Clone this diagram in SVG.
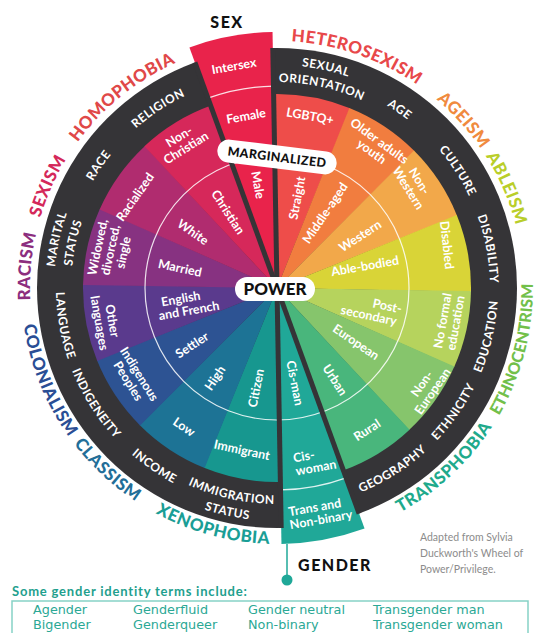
<svg xmlns="http://www.w3.org/2000/svg" width="535" height="633" viewBox="0 0 535 633">
<style>
text{font-family:Lato,"DejaVu Sans",sans-serif}
.ring{font-weight:700;font-size:12px;fill:#fff;letter-spacing:0.5px}
.ism{font-weight:900;font-size:17px;letter-spacing:0.5px}
.lab{font-weight:700;font-size:12.5px;fill:#fff;text-anchor:middle}
.thin{fill:none;stroke:#fff;stroke-width:1.2;stroke-opacity:0.85}
.div{stroke:#353437;stroke-width:5}
.pill{fill:#fff}
.ptxt{font-weight:900;fill:#111;text-anchor:middle}
.term{font-family:"DejaVu Sans",sans-serif;font-size:12.8px;fill:#2ba895}
.note{font-size:10.5px;fill:#8c8c8c}
.head{font-weight:700;font-size:13px;letter-spacing:0.8px;fill:#1FA08E}
</style>
<defs>
<path id="seg" d="M0 0 L-39.01 -190.04 A194 194 0 0 1 39.01 -190.04 Z"/>
<path id="wedge" d="M0 0 L-42.25 -252.5 A256 256 0 0 1 42.25 -252.5 Z"/>
<path id="warc" d="M-33.33 -199.23 A202 202 0 0 1 33.33 -199.23"/>
<path id="cw213" d="M-184.46 -106.5 A213 213 0 0 1 184.46 -106.5"/>
<path id="cw223" d="M-193.12 -111.5 A223 223 0 0 1 193.12 -111.5"/>
<path id="cw206" d="M-178.4 -103 A206 206 0 0 1 178.4 -103"/>
<path id="ccw221" d="M-191.39 110.5 A221 221 0 0 0 191.39 110.5"/>
<path id="ccw216" d="M-187.06 108 A216 216 0 0 0 187.06 108"/>
<path id="ccw233" d="M-201.78 116.5 A233 233 0 0 0 201.78 116.5"/>
<path id="cw247" d="M-213.9 -123.5 A247 247 0 0 1 213.9 -123.5"/>
<path id="ccw256" d="M-221.7 128 A256 256 0 0 0 221.7 128"/>
</defs>
<g transform="translate(277 288)">
<circle r="240" fill="#353437"/>
<g id="segments">
<use href="#seg" transform="rotate(10.5)" fill="#EE4D4A"/>
<use href="#seg" transform="rotate(33.5)" fill="#F17D3F"/>
<use href="#seg" transform="rotate(56.5)" fill="#F2A84A"/>
<use href="#seg" transform="rotate(79.5)" fill="#D9D437"/>
<use href="#seg" transform="rotate(102.5)" fill="#B6D35D"/>
<use href="#seg" transform="rotate(125.5)" fill="#86C56C"/>
<use href="#seg" transform="rotate(148.5)" fill="#49B67C"/>
<use href="#seg" transform="rotate(190.5)" fill="#17978F"/>
<use href="#seg" transform="rotate(213.5)" fill="#1D7395"/>
<use href="#seg" transform="rotate(236.5)" fill="#2D5393"/>
<use href="#seg" transform="rotate(259.5)" fill="#5A3A8D"/>
<use href="#seg" transform="rotate(282.5)" fill="#873281"/>
<use href="#seg" transform="rotate(305.5)" fill="#B02C6F"/>
<use href="#seg" transform="rotate(328.5)" fill="#D6285A"/>
</g>
<g id="sex-wedge">
<use href="#wedge" transform="rotate(349.5)" fill="#E9234B"/>
<use href="#warc" class="thin" transform="rotate(349.5)"/>
</g>
<g id="gender-wedge">
<use href="#wedge" transform="rotate(169.5)" fill="#20A898"/>
<use href="#warc" class="thin" transform="rotate(169.5)"/>
</g>
<circle r="132" class="thin"/>
<g id="dividers">
<line class="div" x1="0" y1="0" x2="0" y2="-240" transform="rotate(-1)"/>
<line class="div" x1="0" y1="0" x2="0" y2="-240" transform="rotate(340)"/>
<line class="div" x1="0" y1="0" x2="0" y2="-240" transform="rotate(160)"/>
<line class="div" x1="0" y1="0" x2="0" y2="-240" transform="rotate(179)"/>
</g>
<g id="ring-labels" class="ring" text-anchor="middle">
<text transform="rotate(12.5)" text-anchor="middle"><textPath href="#cw223" startOffset="50%">SEXUAL</textPath></text>
<text transform="rotate(12.5)" text-anchor="middle"><textPath href="#cw206" startOffset="50%">ORIENTATION</textPath></text>
<text transform="rotate(34.5)" text-anchor="middle"><textPath href="#cw213" startOffset="50%">AGE</textPath></text>
<text transform="rotate(57)" text-anchor="middle"><textPath href="#cw213" startOffset="50%">CULTURE</textPath></text>
<text transform="rotate(79.5)" text-anchor="middle"><textPath href="#cw213" startOffset="50%">DISABILITY</textPath></text>
<text transform="rotate(-77)" text-anchor="middle"><textPath href="#ccw221" startOffset="50%">EDUCATION</textPath></text>
<text transform="rotate(-55)" text-anchor="middle"><textPath href="#ccw221" startOffset="50%">ETHNICITY</textPath></text>
<text transform="rotate(-32.5)" text-anchor="middle"><textPath href="#ccw221" startOffset="50%">GEOGRAPHY</textPath></text>
<text transform="rotate(12.5)" text-anchor="middle"><textPath href="#ccw216" startOffset="50%">IMMIGRATION</textPath></text>
<text transform="rotate(12.5)" text-anchor="middle"><textPath href="#ccw233" startOffset="50%">STATUS</textPath></text>
<text transform="rotate(34.5)" text-anchor="middle"><textPath href="#ccw221" startOffset="50%">INCOME</textPath></text>
<text transform="rotate(57.5)" text-anchor="middle"><textPath href="#ccw221" startOffset="50%">INDIGENEITY</textPath></text>
<text transform="rotate(80)" text-anchor="middle"><textPath href="#ccw221" startOffset="50%">LANGUAGE</textPath></text>
<text transform="rotate(282.5)" text-anchor="middle"><textPath href="#cw223" startOffset="50%">MARITAL</textPath></text>
<text transform="rotate(282.5)" text-anchor="middle"><textPath href="#cw206" startOffset="50%">STATUS</textPath></text>
<text transform="rotate(304.5)" text-anchor="middle"><textPath href="#cw213" startOffset="50%">RACE</textPath></text>
<text transform="rotate(326.5)" text-anchor="middle"><textPath href="#cw213" startOffset="50%">RELIGION</textPath></text>
</g>
<g id="isms" class="ism">
<text transform="rotate(19)" text-anchor="middle" fill="#E8484A"><textPath href="#cw247" startOffset="50%">HETEROSEXISM</textPath></text>
<text transform="rotate(48)" text-anchor="middle" fill="#F08A3E"><textPath href="#cw247" startOffset="50%">AGEISM</textPath></text>
<text transform="rotate(66.5)" text-anchor="middle" fill="#B9CE2A"><textPath href="#cw247" startOffset="50%">ABLEISM</textPath></text>
<text transform="rotate(-75.5)" text-anchor="middle" fill="#72C04A" font-size="16" letter-spacing="0"><textPath href="#ccw256" startOffset="50%">ETHNOCENTRISM</textPath></text>
<text transform="rotate(-43)" text-anchor="middle" fill="#1FAA8C"><textPath href="#ccw256" startOffset="50%">TRANSPHOBIA</textPath></text>
<text transform="rotate(15)" text-anchor="middle" fill="#1A9E96"><textPath href="#ccw256" startOffset="50%">XENOPHOBIA</textPath></text>
<text transform="rotate(43)" text-anchor="middle" fill="#226E98"><textPath href="#ccw256" startOffset="50%">CLASSISM</textPath></text>
<text transform="rotate(68)" text-anchor="middle" fill="#2A4E95"><textPath href="#ccw256" startOffset="50%">COLONIALISM</textPath></text>
<text transform="rotate(275)" text-anchor="middle" fill="#8C2E7E"><textPath href="#cw247" startOffset="50%">RACISM</textPath></text>
<text transform="rotate(294)" text-anchor="middle" fill="#D4285A"><textPath href="#cw247" startOffset="50%">SEXISM</textPath></text>
<text transform="rotate(321)" text-anchor="middle" fill="#E04848"><textPath href="#cw247" startOffset="50%">HOMOPHOBIA</textPath></text>
</g>
</g>
<g id="outer-labels" class="lab">
<text transform="translate(310 116) rotate(10)" dy="0.35em">LGBTQ+</text>
<text transform="translate(375 147) rotate(36)"><tspan x="0" dy="-0.25em">Older adults</tspan><tspan x="0" dy="1.05em">youth</tspan></text>
<text transform="translate(413 185) rotate(58)"><tspan x="0" dy="-0.25em">Non-</tspan><tspan x="0" dy="1.05em">Western</tspan></text>
<text transform="translate(447 245) rotate(84)" dy="0.35em">Disabled</text>
<text transform="translate(450 322) rotate(-80)"><tspan x="0" dy="-0.25em">No formal</tspan><tspan x="0" dy="1.05em">education</tspan></text>
<text transform="translate(428 388) rotate(-55)"><tspan x="0" dy="-0.25em">Non-</tspan><tspan x="0" dy="1.05em">European</tspan></text>
<text transform="translate(367 430) rotate(-33)" dy="0.35em">Rural</text>
<text transform="translate(242 450) rotate(12)" dy="0.35em">Immigrant</text>
<text transform="translate(184 427) rotate(34)" dy="0.35em">Low</text>
<text transform="translate(133 378) rotate(58)"><tspan x="0" dy="-0.25em">Indigenous</tspan><tspan x="0" dy="1.05em">Peoples</tspan></text>
<text transform="translate(105 322) rotate(80)"><tspan x="0" dy="-0.25em">Other</tspan><tspan x="0" dy="1.05em">languages</tspan></text>
<text transform="translate(111 250) rotate(-78)"><tspan x="0" dy="-0.75em">Widowed,</tspan><tspan x="0" dy="1.05em">divorced,</tspan><tspan x="0" dy="1.05em">single</tspan></text>
<text transform="translate(135 197) rotate(-55)" dy="0.35em">Racialized</text>
<text transform="translate(183 143) rotate(-32)"><tspan x="0" dy="-0.25em">Non-</tspan><tspan x="0" dy="1.05em">Christian</tspan></text>
</g>
<g id="inner-labels" class="lab">
<text transform="translate(297 198) rotate(-79)" dy="0.35em">Straight</text>
<text transform="translate(325 213) rotate(-56)" dy="0.35em">Middle-aged</text>
<text transform="translate(360 236) rotate(-33)" dy="0.35em">Western</text>
<text transform="translate(365 266) rotate(-10)" dy="0.35em">Able-bodied</text>
<text transform="translate(370 310) rotate(12)"><tspan x="16" dy="-0.25em">Post-</tspan><tspan x="0" dy="1.05em">secondary</tspan></text>
<text transform="translate(356 342) rotate(34)" dy="0.35em">European</text>
<text transform="translate(335 380) rotate(57)" dy="0.35em">Urban</text>
<text transform="translate(295 383) rotate(79)" dy="0.35em">Cis-man</text>
<text transform="translate(256 388) rotate(-79)" dy="0.35em">Citizen</text>
<text transform="translate(215 378) rotate(-56)" dy="0.35em">High</text>
<text transform="translate(192 345) rotate(-33)" dy="0.35em">Settler</text>
<text transform="translate(188 305) rotate(-10)"><tspan x="-6" dy="-0.25em">English</tspan><tspan x="0" dy="1.05em">and French</tspan></text>
<text transform="translate(180 268) rotate(12)" dy="0.35em">Married</text>
<text transform="translate(193 232) rotate(35)" dy="0.35em">White</text>
<text transform="translate(228 212) rotate(57)" dy="0.35em">Christian</text>
<text transform="translate(258 185) rotate(80)" dy="0.35em">Male</text>
</g>
<g id="wedge-labels" class="lab">
<text transform="translate(234 66) rotate(-10)" dy="0.35em">Intersex</text>
<text transform="translate(246 116) rotate(-10)" dy="0.35em">Female</text>
<text transform="translate(315 462) rotate(-10)"><tspan x="-10" dy="-0.25em">Cis-</tspan><tspan x="0" dy="1.05em">woman</tspan></text>
<text transform="translate(320 514) rotate(-10)"><tspan x="-4" dy="-0.25em">Trans and</tspan><tspan x="0" dy="1.05em">Non-binary</tspan></text>
</g>
<g id="marginalized" transform="translate(277 157) rotate(7)">
<rect class="pill" x="-60" y="-11.5" width="120" height="23" rx="11.5"/>
<text class="ptxt" y="4.5" font-size="12.5" letter-spacing="0.4">MARGINALIZED</text>
</g>
<g id="power" transform="translate(275 289)">
<rect class="pill" x="-40" y="-12" width="80" height="24" rx="12"/>
<text class="ptxt" y="6" font-size="17">POWER</text>
</g>
<g id="connectors">
<line x1="287" y1="544" x2="287" y2="577" stroke="#1FA898" stroke-width="1.5"/>
<circle cx="287" cy="580" r="5.5" fill="#1FA898"/>
</g>
<g id="titles">
<text x="227" y="28" class="ptxt" font-size="16" letter-spacing="1.5">SEX</text>
<text x="335" y="571" class="ptxt" font-size="16" letter-spacing="1.5">GENDER</text>
<text x="420" y="541" class="note">Adapted from Sylvia</text>
<text x="420" y="557" class="note">Duckworth's Wheel of</text>
<text x="420" y="573" class="note">Power/Privilege.</text>
</g>
<g id="terms">
<text x="12" y="596" class="head">Some gender identity terms include:</text>
<rect x="12" y="601" width="516" height="45" fill="none" stroke="#86D2C6" stroke-width="1.5"/>
<text class="term" x="33" y="614">Agender</text>
<text class="term" x="33" y="629">Bigender</text>
<text class="term" x="133" y="614">Genderfluid</text>
<text class="term" x="133" y="629">Genderqueer</text>
<text class="term" x="248" y="614">Gender neutral</text>
<text class="term" x="248" y="629">Non-binary</text>
<text class="term" x="373" y="614">Transgender man</text>
<text class="term" x="373" y="629">Transgender woman</text>
</g>
</svg>
